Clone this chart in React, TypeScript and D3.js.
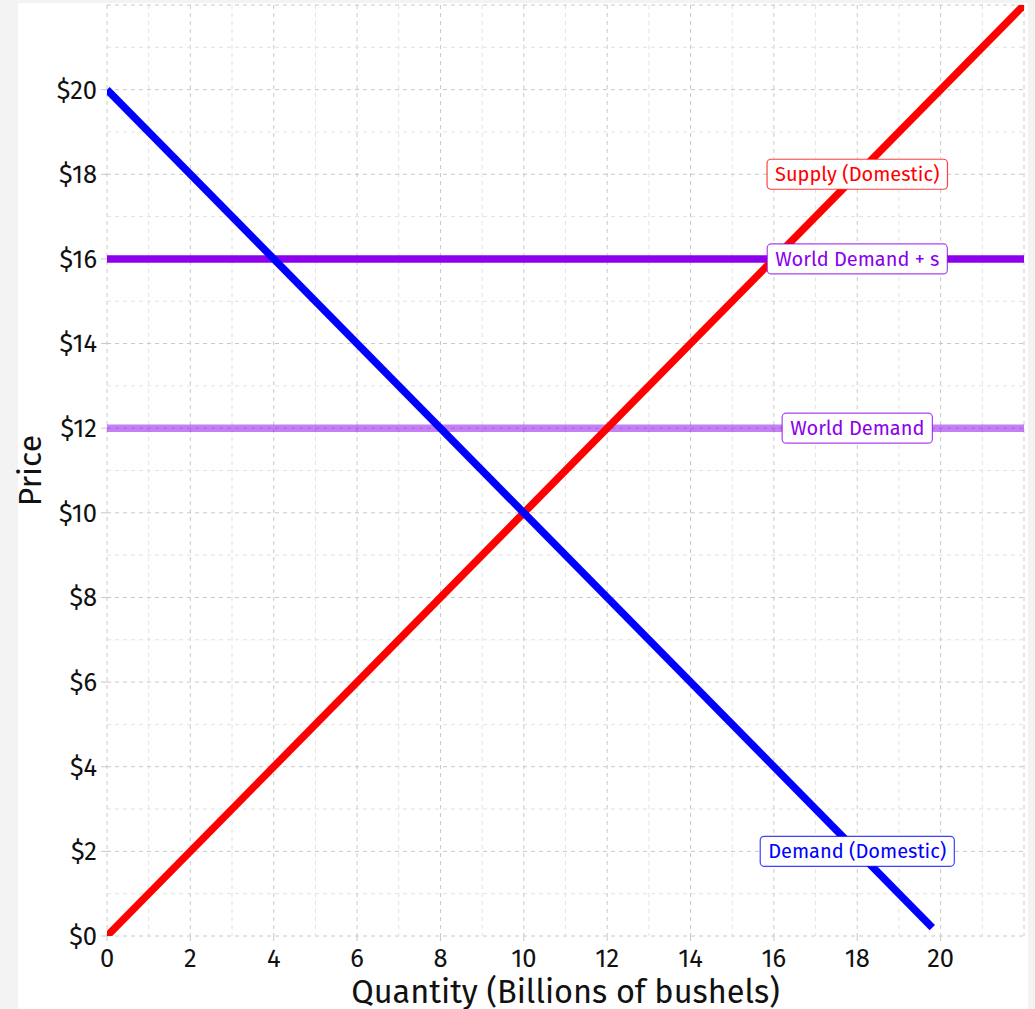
import React, { useEffect, useRef } from "react";
import * as d3 from "d3";

const W = 1035;
const H = 1009;

const xTicks = [0, 2, 4, 6, 8, 10, 12, 14, 16, 18, 20];
const yTicks = [0, 2, 4, 6, 8, 10, 12, 14, 16, 18, 20];
const xDomain = [0, 22];
const yDomain = [0, 22];

const supplyQ = [0, 22];
const supplyP = [0, 22];
const demandQ = [0, 19.8];
const demandP = [20, 0.2];
const worldQ = [0, 22];
const worldPrice = 12;
const worldPriceSubsidy = 16;

const labelTexts = ["Supply (Domestic)", "World Demand + s", "World Demand", "Demand (Domestic)"];
const labelQ = [18, 18, 18, 18];
const labelP = [18, 16, 12, 2];
const labelColors = ["#ff0000", "#8c00ec", "#8c00ec", "#0000ff"];

const FONT = "'Fira Sans', 'Open Sans', sans-serif";

export default function App() {
  const ref = useRef<SVGSVGElement | null>(null);

  useEffect(() => {
    const svg = d3.select(ref.current);
    svg.selectAll("*").remove();

    const x = d3.scaleLinear().domain(xDomain).range([107, 1024]);
    const y = d3.scaleLinear().domain(yDomain).range([936, 5]);

    svg.append("rect").attr("width", W).attr("height", H).attr("fill", "#f3f3f3");
    svg.append("rect").attr("x", 18).attr("y", 3).attr("width", 1010).attr("height", H).attr("fill", "#ffffff");

    const grid = svg.append("g");
    const ints = d3.range(0, 23);
    ints.forEach((v) => {
      const major = v % 2 === 0;
      grid.append("line")
        .attr("x1", x(v)).attr("x2", x(v))
        .attr("y1", y(22)).attr("y2", y(0))
        .attr("stroke", major ? "#c8c8c8" : "#e2e2e2")
        .attr("stroke-width", 1)
        .attr("stroke-dasharray", "4,4");
      grid.append("line")
        .attr("x1", x(0)).attr("x2", x(22))
        .attr("y1", y(v)).attr("y2", y(v))
        .attr("stroke", major ? "#c8c8c8" : "#e2e2e2")
        .attr("stroke-width", 1)
        .attr("stroke-dasharray", "4,4");
    });

    // ticks
    xTicks.forEach((t) => {
      svg.append("line").attr("x1", x(t)).attr("x2", x(t)).attr("y1", 936).attr("y2", 941)
        .attr("stroke", "#c8c8c8").attr("stroke-width", 1);
      svg.append("text").attr("x", x(t)).attr("y", 967)
        .attr("text-anchor", "middle").attr("font-family", FONT).attr("font-size", 25.5)
        .attr("fill", "#111").text(String(t));
    });
    yTicks.forEach((t) => {
      svg.append("line").attr("x1", 101).attr("x2", 107).attr("y1", y(t)).attr("y2", y(t))
        .attr("stroke", "#c8c8c8").attr("stroke-width", 1);
      svg.append("text").attr("x", 97).attr("y", y(t)).attr("dy", "0.35em")
        .attr("text-anchor", "end").attr("font-family", FONT).attr("font-size", 25.5)
        .attr("fill", "#111").text("$" + t);
    });

    // clip
    svg.append("clipPath").attr("id", "plotclip").append("rect")
      .attr("x", x(0)).attr("y", y(22)).attr("width", x(22) - x(0)).attr("height", y(0) - y(22));

    const lines = svg.append("g").attr("clip-path", "url(#plotclip)");
    const lineGen = d3.line<[number, number]>().x((d) => x(d[0])).y((d) => y(d[1]));

    const worldPts: [number, number][] = worldQ.map((q) => [q, worldPrice]);
    lines.append("path").attr("d", lineGen(worldPts)!).attr("fill", "none")
      .attr("stroke", "#8c00ec").attr("stroke-opacity", 0.5).attr("stroke-width", 7.5);

    const subsPts: [number, number][] = worldQ.map((q) => [q, worldPriceSubsidy]);
    lines.append("path").attr("d", lineGen(subsPts)!).attr("fill", "none")
      .attr("stroke", "#8c00ec").attr("stroke-width", 7.5);

    const supplyPts: [number, number][] = supplyQ.map((q, i) => [q, supplyP[i]]);
    lines.append("path").attr("d", lineGen(supplyPts)!).attr("fill", "none")
      .attr("stroke", "#ff0000").attr("stroke-width", 7.5);

    const demandPts: [number, number][] = demandQ.map((q, i) => [q, demandP[i]]);
    lines.append("path").attr("d", lineGen(demandPts)!).attr("fill", "none")
      .attr("stroke", "#0000ff").attr("stroke-width", 7.5);

    // labels
    labelTexts.forEach((txt, i) => {
      const g = svg.append("g");
      const rect = g.append("rect");
      const t = g.append("text")
        .attr("x", x(labelQ[i])).attr("y", y(labelP[i])).attr("dy", "0.35em")
        .attr("text-anchor", "middle").attr("font-family", FONT).attr("font-size", 20)
        .attr("fill", labelColors[i]).text(txt);
      const bb = (t.node() as SVGTextElement).getBBox();
      const w = bb.width + 16;
      const h = 30;
      rect.attr("x", x(labelQ[i]) - w / 2).attr("y", y(labelP[i]) - h / 2)
        .attr("width", w).attr("height", h).attr("rx", 4).attr("ry", 4)
        .attr("fill", "#ffffff").attr("stroke", labelColors[i]).attr("stroke-opacity", 0.75)
        .attr("stroke-width", 1.2);
    });

    // axis titles
    svg.append("text").attr("x", (x(0) + x(22)) / 2).attr("y", 1003)
      .attr("text-anchor", "middle").attr("font-family", FONT).attr("font-size", 32.5)
      .attr("fill", "#111").text("Quantity (Billions of bushels)");
    svg.append("text")
      .attr("transform", `translate(41, ${(y(0) + y(22)) / 2}) rotate(-90)`)
      .attr("text-anchor", "middle").attr("font-family", FONT).attr("font-size", 32)
      .attr("fill", "#111").text("Price");
  }, []);

  return (
    <svg ref={ref} width={W} height={H}
      style={{ position: "absolute", left: 0, top: 0, display: "block" }} />
  );
}
